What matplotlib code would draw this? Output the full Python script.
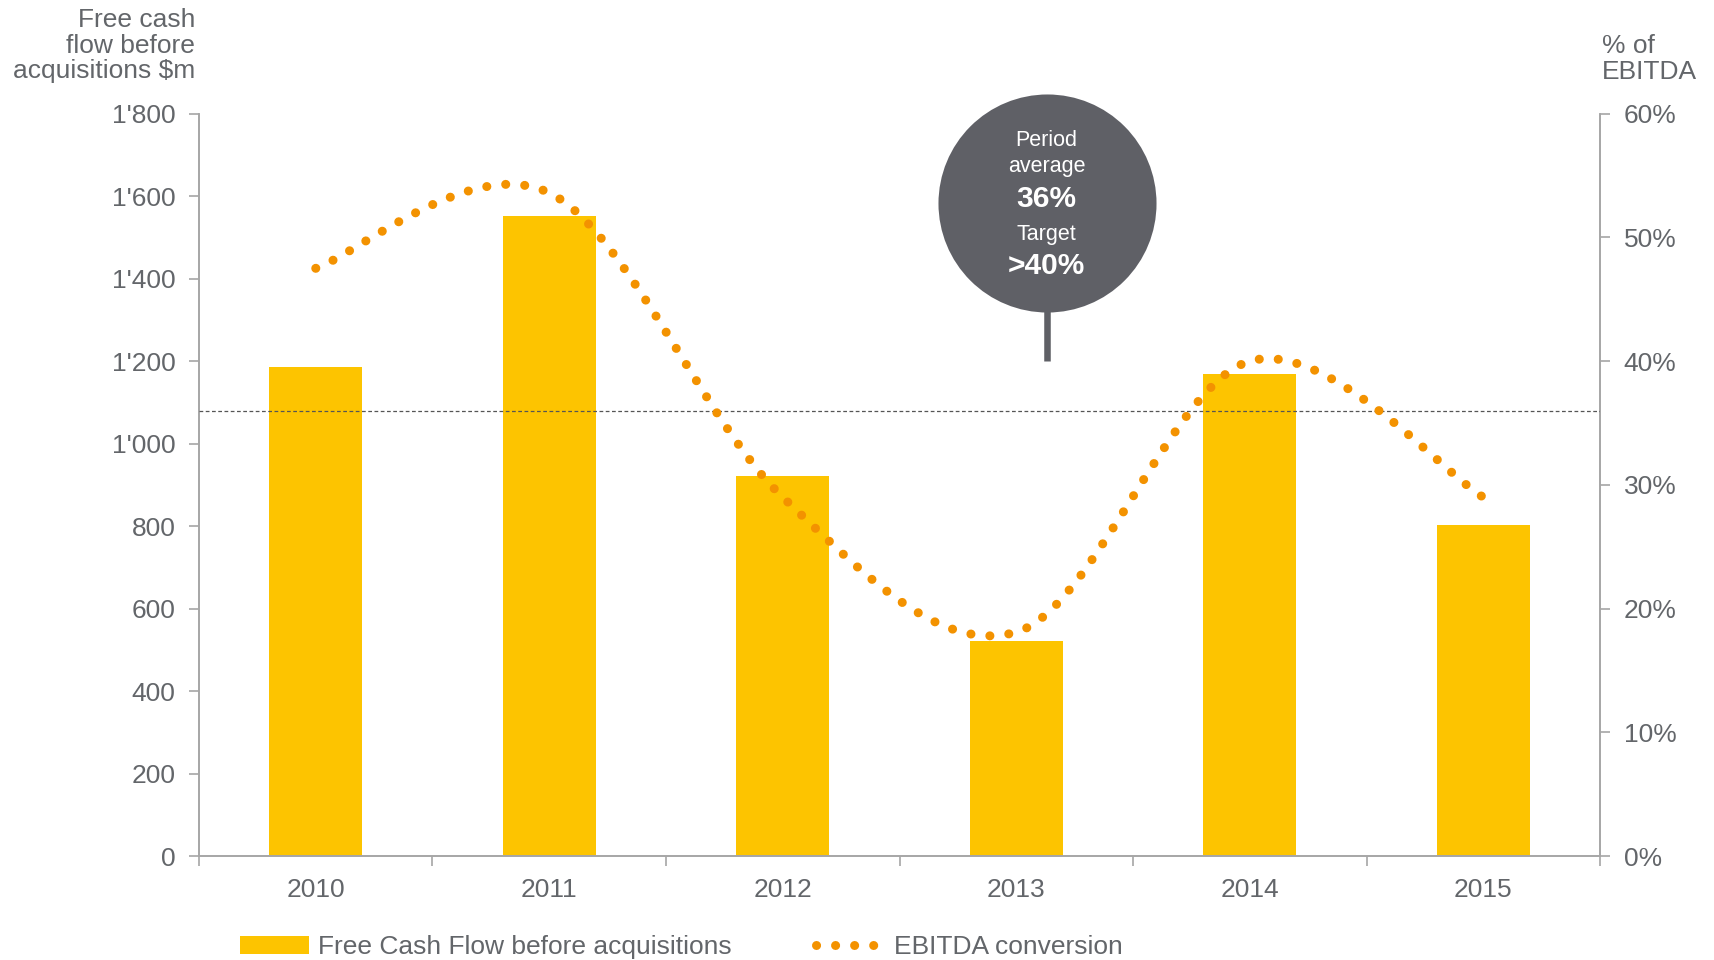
import numpy as np
import matplotlib.pyplot as plt
from matplotlib.path import Path
from matplotlib.patches import PathPatch, Patch
from matplotlib.lines import Line2D

plt.rcParams['font.family'] = ['Liberation Sans', 'DejaVu Sans']

# data
years = ['2010', '2011', '2012', '2013', '2014', '2015']
fcf = [1185, 1553, 922, 522, 1169, 803]          # $m, left axis
conversion = [47.5, 53.6, 29.0, 18.1, 40.0, 29.0]  # % of EBITDA, right axis
period_avg = 36
target = 40

bar_col = '#fdc400'
dot_col = '#f39200'
txt_col = '#63666a'
axis_col = '#a6a6a6'
bubble_col = '#5f6066'
fs = 19
dots = (0, (0.01, 2.1))

fig = plt.figure(figsize=(17.14, 9.6), dpi=100)
ax = fig.add_axes([0.1161, 0.1083, 0.9335 - 0.1161, 0.8816 - 0.1083])
ax2 = ax.twinx()

x = np.arange(len(years))
ax.bar(x, fcf, width=0.4, color=bar_col, zorder=2)
ax.set_xlim(-0.5, len(years) - 0.5)
ax.set_ylim(0, 1800)
ax.set_yticks(range(0, 1801, 200))
ax.set_yticklabels([f"{v//1000}'{v%1000:03d}" if v >= 1000 else str(v) for v in range(0, 1801, 200)])
ax.set_xticks(x)
ax.set_xticklabels(years)
ax.set_xticks(np.arange(-0.5, len(years)), minor=True)
ax.tick_params(axis='x', which='major', length=0, pad=16, labelsize=fs, labelcolor=txt_col)
ax.tick_params(axis='x', which='minor', length=7, color=axis_col, width=1.2)
ax.tick_params(axis='y', length=7, color=axis_col, width=1.2, labelsize=fs, labelcolor=txt_col, pad=10)

ax2.set_ylim(0, 60)
ax2.set_yticks(range(0, 61, 10))
ax2.set_yticklabels([f'{v}%' for v in range(0, 61, 10)])
ax2.tick_params(axis='y', length=7, color=axis_col, width=1.2, labelsize=fs, labelcolor=txt_col, pad=10)

for a in (ax, ax2):
    a.spines['top'].set_visible(False)
    for s in ('left', 'right', 'bottom'):
        a.spines[s].set_color(axis_col)
        a.spines[s].set_linewidth(1.2)

# period average reference line
ax2.axhline(period_avg, color='#555555', lw=0.9, ls=(0, (3, 2)), zorder=3)

# smoothed conversion curve (Catmull-Rom -> cubic Bezier segments)
pts = np.column_stack([x, conversion]).astype(float)
ext = np.vstack([pts[0], pts, pts[-1]])
verts = [tuple(pts[0])]
codes = [Path.MOVETO]
for i in range(len(pts) - 1):
    p0, p1, p2, p3 = ext[i], ext[i + 1], ext[i + 2], ext[i + 3]
    c1 = p1 + (p2 - p0) / 6
    c2 = p2 - (p3 - p1) / 6
    verts += [tuple(c1), tuple(c2), tuple(p2)]
    codes += [Path.CURVE4] * 3
curve = PathPatch(Path(verts, codes), fill=False, edgecolor=dot_col, lw=6.5,
                  linestyle=dots, capstyle='round', zorder=4)
ax2.add_patch(curve)

# bubble callout
bx, by = 3.13, 52.8
ax2.plot([bx, bx], [target, by - 5], color=bubble_col, lw=4.7, solid_capstyle='butt', zorder=5)
ax2.scatter([bx], [by], s=157 ** 2, color=bubble_col, zorder=6, linewidths=0, clip_on=False)
ax2.text(bx, 57.8, 'Period', ha='center', va='center', color='white', fontsize=15.5, zorder=7)
ax2.text(bx, 55.7, 'average', ha='center', va='center', color='white', fontsize=15.5, zorder=7)
ax2.text(bx, 53.1, f'{period_avg}%', ha='center', va='center', color='white', fontsize=21.5, fontweight='bold', zorder=7)
ax2.text(bx, 50.2, 'Target', ha='center', va='center', color='white', fontsize=15.5, zorder=7)
ax2.text(bx, 47.7, f'>{target}%', ha='center', va='center', color='white', fontsize=21.5, fontweight='bold', zorder=7)

# axis titles
fig.text(195 / 1714, 1 - 8 / 960, 'Free cash\nflow before\nacquisitions $m', ha='right', va='top',
         fontsize=fs, color=txt_col, linespacing=1.08)
fig.text(1602 / 1714, 1 - 34 / 960, '% of\nEBITDA', ha='left', va='top',
         fontsize=fs, color=txt_col, linespacing=1.08)

# legend
handles = [Patch(facecolor=bar_col, edgecolor='none'),
           Line2D([0], [0], color=dot_col, lw=6.5, linestyle=dots, dash_capstyle='round')]
fig.legend(handles, ['Free Cash Flow before acquisitions', 'EBITDA conversion'],
           loc='center left', bbox_to_anchor=(240 / 1714, 1 - 947 / 960), ncol=2, frameon=False,
           fontsize=fs, labelcolor=txt_col, handlelength=2.6, handletextpad=0.35,
           columnspacing=3.2, borderpad=0, borderaxespad=0)

fig.savefig('out.png', dpi=100)
